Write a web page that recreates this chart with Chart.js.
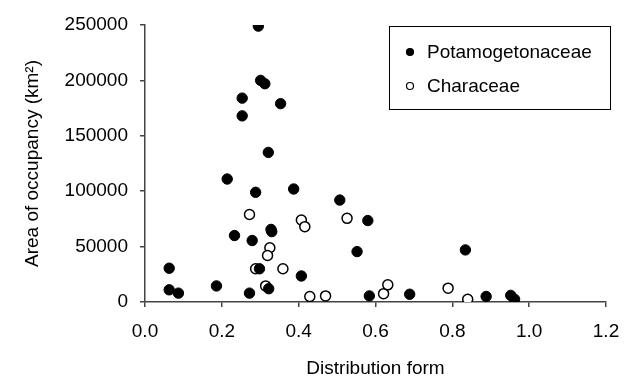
<!DOCTYPE html>
<html>
<head>
<meta charset="utf-8">
<script src="https://cdn.jsdelivr.net/npm/chart.js@4"></script>
<style>
  html, body { margin: 0; padding: 0; background: #fff; }
  #wrap { width: 635px; height: 380px; }
</style>
</head>
<body>
<div id="wrap"><canvas id="chart"></canvas></div>
<script>
// Potamogetonaceae (filled)
const potaX = [0.295, 0.301, 0.312, 0.253, 0.353, 0.253, 0.321, 0.214, 0.288, 0.387,
               0.233, 0.328, 0.330, 0.279, 0.063, 0.298, 0.407, 0.063, 0.087, 0.186,
               0.272, 0.322, 0.507, 0.580, 0.552, 0.834, 0.584, 0.689, 0.888, 0.952, 0.962];
const potaY = [249000, 200000, 197000, 184000, 179000, 168000, 135000, 111000, 99000, 102000,
               60000, 65500, 63500, 55500, 30500, 30000, 23500, 11000, 8000, 14500,
               8000, 12000, 92000, 73500, 45500, 47000, 5500, 7000, 5000, 6000, 2500];

// Characeae (open)
const charaX = [0.272, 0.407, 0.416, 0.325, 0.319, 0.288, 0.359, 0.314, 0.429, 0.470,
                0.526, 0.621, 0.632, 0.789, 0.840];
const charaY = [79000, 74000, 68000, 49000, 42000, 30000, 30000, 14500, 5000, 5500,
                75500, 7500, 15500, 12500, 2500];

const xTicks = [0, 0.2, 0.4, 0.6, 0.8, 1.0, 1.2];
const yTicks = [0, 50000, 100000, 150000, 200000, 250000];

const FONT = 'Liberation Sans, Arial, sans-serif';

const toPoints = (xs, ys) => xs.map((x, i) => ({ x: x, y: ys[i] }));

// simple boxed legend like the original
const boxLegend = {
    id: 'boxLegend',
    afterDraw(chart) {
        const ctx = chart.ctx;
        ctx.save();
        ctx.strokeStyle = '#000';
        ctx.lineWidth = 1;
        ctx.strokeRect(389.5, 26.5, 221, 83);
        ctx.font = '19px ' + FONT;
        ctx.textBaseline = 'middle';
        ctx.fillStyle = '#000';
        const rows = [52, 86];
        chart.data.datasets.forEach((ds, i) => {
            ctx.beginPath();
            ctx.arc(410, rows[i], 3.5, 0, Math.PI * 2);
            ctx.fillStyle = ds.backgroundColor;
            ctx.fill();
            ctx.lineWidth = 1.2;
            ctx.strokeStyle = '#000';
            ctx.stroke();
            ctx.fillStyle = '#000';
            ctx.fillText(ds.label, 427, rows[i] + 1);
        });
        ctx.restore();
    }
};

new Chart(document.getElementById('chart').getContext('2d'), {
    type: 'scatter',
    data: {
        datasets: [{
            label: 'Potamogetonaceae',
            data: toPoints(potaX, potaY),
            backgroundColor: '#000',
            borderColor: '#000',
            borderWidth: 1,
            pointRadius: 5.2,
            pointHoverRadius: 5.2
        }, {
            label: 'Characeae',
            data: toPoints(charaX, charaY),
            backgroundColor: '#fff',
            borderColor: '#000',
            borderWidth: 1.5,
            pointRadius: 5,
            pointHoverRadius: 5
        }]
    },
    options: {
        responsive: true,
        maintainAspectRatio: false,
        animation: false,
        layout: { padding: { left: 0, right: 29, top: 25, bottom: 0 } },
        plugins: {
            legend: { display: false },
            tooltip: { enabled: false }
        },
        scales: {
            x: {
                type: 'linear',
                min: 0,
                max: 1.2,
                afterFit: s => { s.height = 78; },
                afterBuildTicks: s => { s.ticks = xTicks.map(v => ({ value: v })); },
                border: { color: '#444', width: 1.5 },
                grid: { drawOnChartArea: false, color: '#444', tickLength: 5, lineWidth: 1.5 },
                ticks: {
                    color: '#000',
                    padding: 13,
                    font: { family: FONT, size: 19 },
                    callback: v => Number(v).toFixed(1)
                },
                title: {
                    display: true,
                    text: 'Distribution form',
                    color: '#000',
                    font: { family: FONT, size: 19 },
                    padding: { top: 0, bottom: 0 }
                }
            },
            y: {
                type: 'linear',
                min: 0,
                max: 250000,
                afterFit: s => { s.width = 145; },
                afterBuildTicks: s => { s.ticks = yTicks.map(v => ({ value: v })); },
                border: { color: '#444', width: 1.5 },
                grid: { drawOnChartArea: false, color: '#444', tickLength: 5, lineWidth: 1.5 },
                ticks: {
                    color: '#000',
                    padding: 12,
                    font: { family: FONT, size: 19 },
                    callback: v => String(v)
                },
                title: {
                    display: true,
                    text: 'Area of occupancy (km\u00B2)',
                    color: '#000',
                    font: { family: FONT, size: 19 },
                    padding: { top: 21, bottom: 0 }
                }
            }
        }
    },
    plugins: [boxLegend]
});
</script>
</body>
</html>
